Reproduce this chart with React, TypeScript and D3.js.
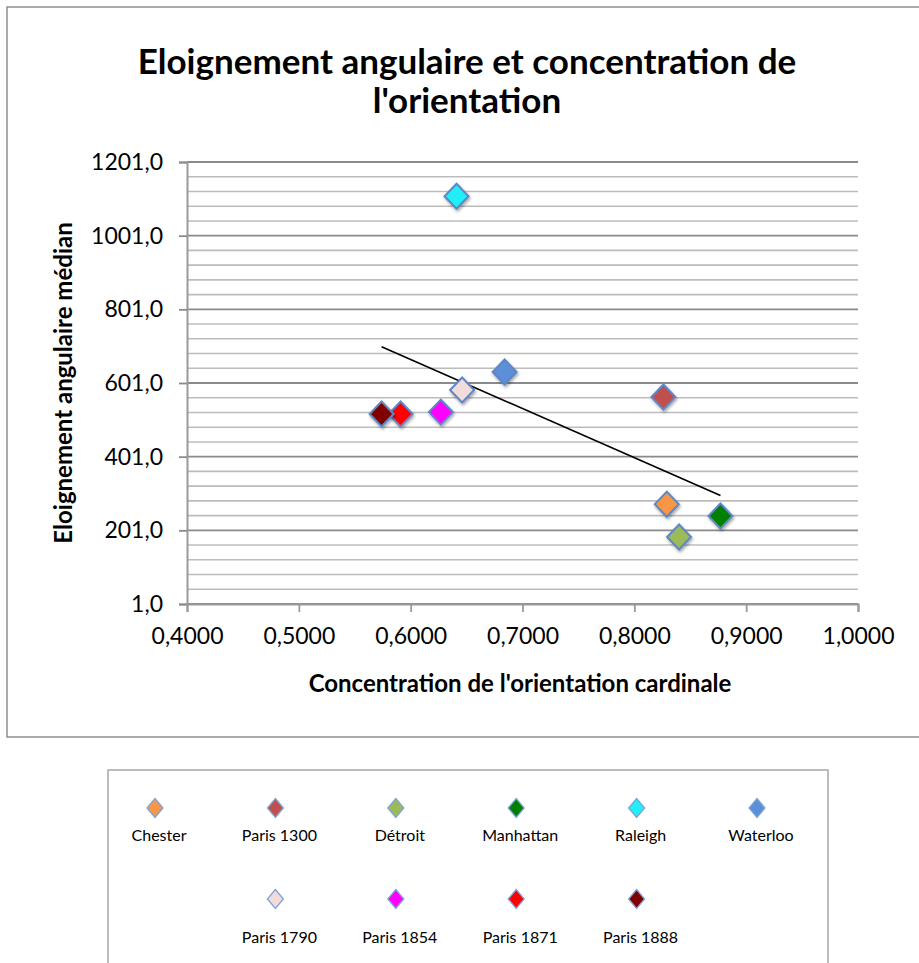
import React, { useRef, useEffect } from "react";
import * as d3 from "d3";

// Data
const cities = [
  "Chester",
  "Paris 1300",
  "Détroit",
  "Manhattan",
  "Raleigh",
  "Waterloo",
  "Paris 1790",
  "Paris 1854",
  "Paris 1871",
  "Paris 1888",
];
const concentration = [0.829, 0.826, 0.84, 0.877, 0.641, 0.684, 0.646, 0.627, 0.591, 0.574];
const eloignement = [272, 563, 183, 240, 1108, 631, 582, 522, 517, 517];
const colors = [
  "#F79646",
  "#C0504D",
  "#9BBB59",
  "#007F00",
  "#22EEF8",
  "#5B8FD8",
  "#F2DCDB",
  "#FF00FF",
  "#FF0000",
  "#800000",
];
const xTicks = [0.4, 0.5, 0.6, 0.7, 0.8, 0.9, 1.0];
const yTicks = [1, 201, 401, 601, 801, 1001, 1201];

const W = 919,
  H = 963;

const App: React.FC = () => {
  const ref = useRef<SVGSVGElement>(null);

  useEffect(() => {
    const svg = d3.select(ref.current);
    svg.selectAll("*").remove();

    const margin = { left: 187, right: 858, top: 162, bottom: 604 };
    const font = "Lato, 'DejaVu Sans', sans-serif";

    const x = d3.scaleLinear().domain([0.4, 1.0]).range([margin.left, margin.right]);
    const y = d3.scaleLinear().domain([1, 1201]).range([margin.bottom, margin.top]);

    const defs = svg.append("defs");
    const shadow = defs
      .append("filter")
      .attr("id", "shadow")
      .attr("x", "-50%")
      .attr("y", "-50%")
      .attr("width", "200%")
      .attr("height", "200%");
    shadow
      .append("feDropShadow")
      .attr("dx", 1)
      .attr("dy", 2)
      .attr("stdDeviation", 1.5)
      .attr("flood-color", "#000")
      .attr("flood-opacity", 0.35);

    // chart frame
    svg
      .append("rect")
      .attr("x", 7)
      .attr("y", 7)
      .attr("width", W + 10)
      .attr("height", 730)
      .attr("fill", "#fff")
      .attr("stroke", "#8f8f8f")
      .attr("stroke-width", 1.5);

    // title
    const title = svg
      .append("text")
      .attr("text-anchor", "middle")
      .style("font-family", font)
      .style("font-weight", "bold")
      .style("font-size", "35px")
      .attr("fill", "#000");
    title.append("tspan").attr("x", 467).attr("y", 74).text("Eloignement angulaire et concentration de");
    title.append("tspan").attr("x", 467).attr("y", 113).text("l'orientation");

    // grid lines: minor every 40, major every 200
    const gridVals = d3.range(1, 1202, 40);
    svg
      .append("g")
      .selectAll("line")
      .data(gridVals)
      .enter()
      .append("line")
      .attr("x1", margin.left)
      .attr("x2", margin.right)
      .attr("y1", (d) => y(d))
      .attr("y2", (d) => y(d))
      .attr("stroke", (d) => ((d - 1) % 200 === 0 ? "#8a8a8a" : "#bcbcbc"))
      .attr("stroke-width", (d) => ((d - 1) % 200 === 0 ? 1.8 : 1.6));

    // Y axis
    const yAxis = svg
      .append("g")
      .attr("transform", `translate(${margin.left},0)`)
      .call(
        d3
          .axisLeft(y)
          .tickValues(yTicks)
          .tickSize(8)
          .tickPadding(16)
          .tickFormat((d) => d3.format(".1f")(d as number).replace(".", ","))
      );
    yAxis.select(".domain").attr("stroke", "#9a9a9a").attr("stroke-width", 2);
    yAxis.selectAll(".tick line").attr("stroke", "#8a8a8a").attr("stroke-width", 1.8);
    yAxis
      .selectAll("text")
      .attr("fill", "#000")
      .style("font-family", font)
      .style("font-size", "23px");

    // X axis
    const xAxis = svg
      .append("g")
      .attr("transform", `translate(0,${margin.bottom})`)
      .call(
        d3
          .axisBottom(x)
          .tickValues(xTicks)
          .tickSize(8)
          .tickPadding(16)
          .tickFormat((d) => d3.format(".4f")(d as number).replace(".", ","))
      );
    xAxis.select(".domain").attr("stroke", "#9a9a9a").attr("stroke-width", 2);
    xAxis.selectAll(".tick line").attr("stroke", "#9a9a9a").attr("stroke-width", 1.8);
    xAxis
      .selectAll("text")
      .attr("fill", "#000")
      .style("font-family", font)
      .style("font-size", "23px");

    // axis titles
    svg
      .append("text")
      .attr("x", 520)
      .attr("y", 692)
      .attr("text-anchor", "middle")
      .style("font-family", font)
      .style("font-weight", "bold")
      .style("font-size", "24px")
      .text("Concentration de l'orientation cardinale");
    svg
      .append("text")
      .attr("transform", "translate(72,383) rotate(-90)")
      .attr("text-anchor", "middle")
      .style("font-family", font)
      .style("font-weight", "bold")
      .style("font-size", "24px")
      .text("Eloignement angulaire médian");

    // trend line (least squares)
    const pts = cities.map((c, i) => ({ c, x: concentration[i], y: eloignement[i], color: colors[i] }));
    const mx = d3.mean(pts, (d) => d.x)!;
    const my = d3.mean(pts, (d) => d.y)!;
    const slope =
      d3.sum(pts, (d) => (d.x - mx) * (d.y - my)) / d3.sum(pts, (d) => (d.x - mx) * (d.x - mx));
    const [x0, x1] = d3.extent(pts, (d) => d.x) as [number, number];
    const trend = [x0, x1].map((v) => ({ x: v, y: my + slope * (v - mx) }));
    svg
      .append("path")
      .datum(trend)
      .attr("fill", "none")
      .attr("stroke", "#000")
      .attr("stroke-width", 1.6)
      .attr(
        "d",
        d3
          .line<{ x: number; y: number }>()
          .x((d) => x(d.x))
          .y((d) => y(d.y))
      );

    // markers
    const diamond = (cx: number, cy: number, rx: number, ry: number) =>
      `M${cx},${cy - ry}L${cx + rx},${cy}L${cx},${cy + ry}L${cx - rx},${cy}Z`;

    svg
      .append("g")
      .selectAll("path")
      .data(pts)
      .enter()
      .append("path")
      .attr("d", (d) => diamond(x(d.x), y(d.y), 12, 12.5))
      .attr("fill", (d) => d.color)
      .attr("stroke", "#5E87C4")
      .attr("stroke-width", 2)
      .attr("filter", "url(#shadow)");

    // legend
    svg
      .append("rect")
      .attr("x", 108)
      .attr("y", 770)
      .attr("width", 720)
      .attr("height", 220)
      .attr("fill", "#fff")
      .attr("stroke", "#a6a6a6")
      .attr("stroke-width", 1.5);

    const colW = 120.4;
    const legend = svg
      .append("g")
      .selectAll("g")
      .data(pts)
      .enter()
      .append("g")
      .attr("transform", (d, i) => {
        const row = i < 6 ? 0 : 1;
        const col = i < 6 ? i : i - 5;
        return `translate(${155 + col * colW},${row === 0 ? 808 : 899})`;
      });
    legend
      .append("path")
      .attr("d", diamond(0, 0, 8, 9.5))
      .attr("fill", (d) => d.color)
      .attr("stroke", "#7FA4D6")
      .attr("stroke-width", 1.3);
    legend
      .append("text")
      .attr("x", 4)
      .attr("y", (d, i) => (i < 6 ? 33 : 44))
      .attr("text-anchor", "middle")
      .style("font-family", font)
      .style("font-size", "16px")
      .text((d) => d.c);
  }, []);

  return (
    <svg
      ref={ref}
      width={W}
      height={H}
      style={{ position: "absolute", left: 0, top: 0, background: "#fff" }}
    />
  );
};

export default App;
